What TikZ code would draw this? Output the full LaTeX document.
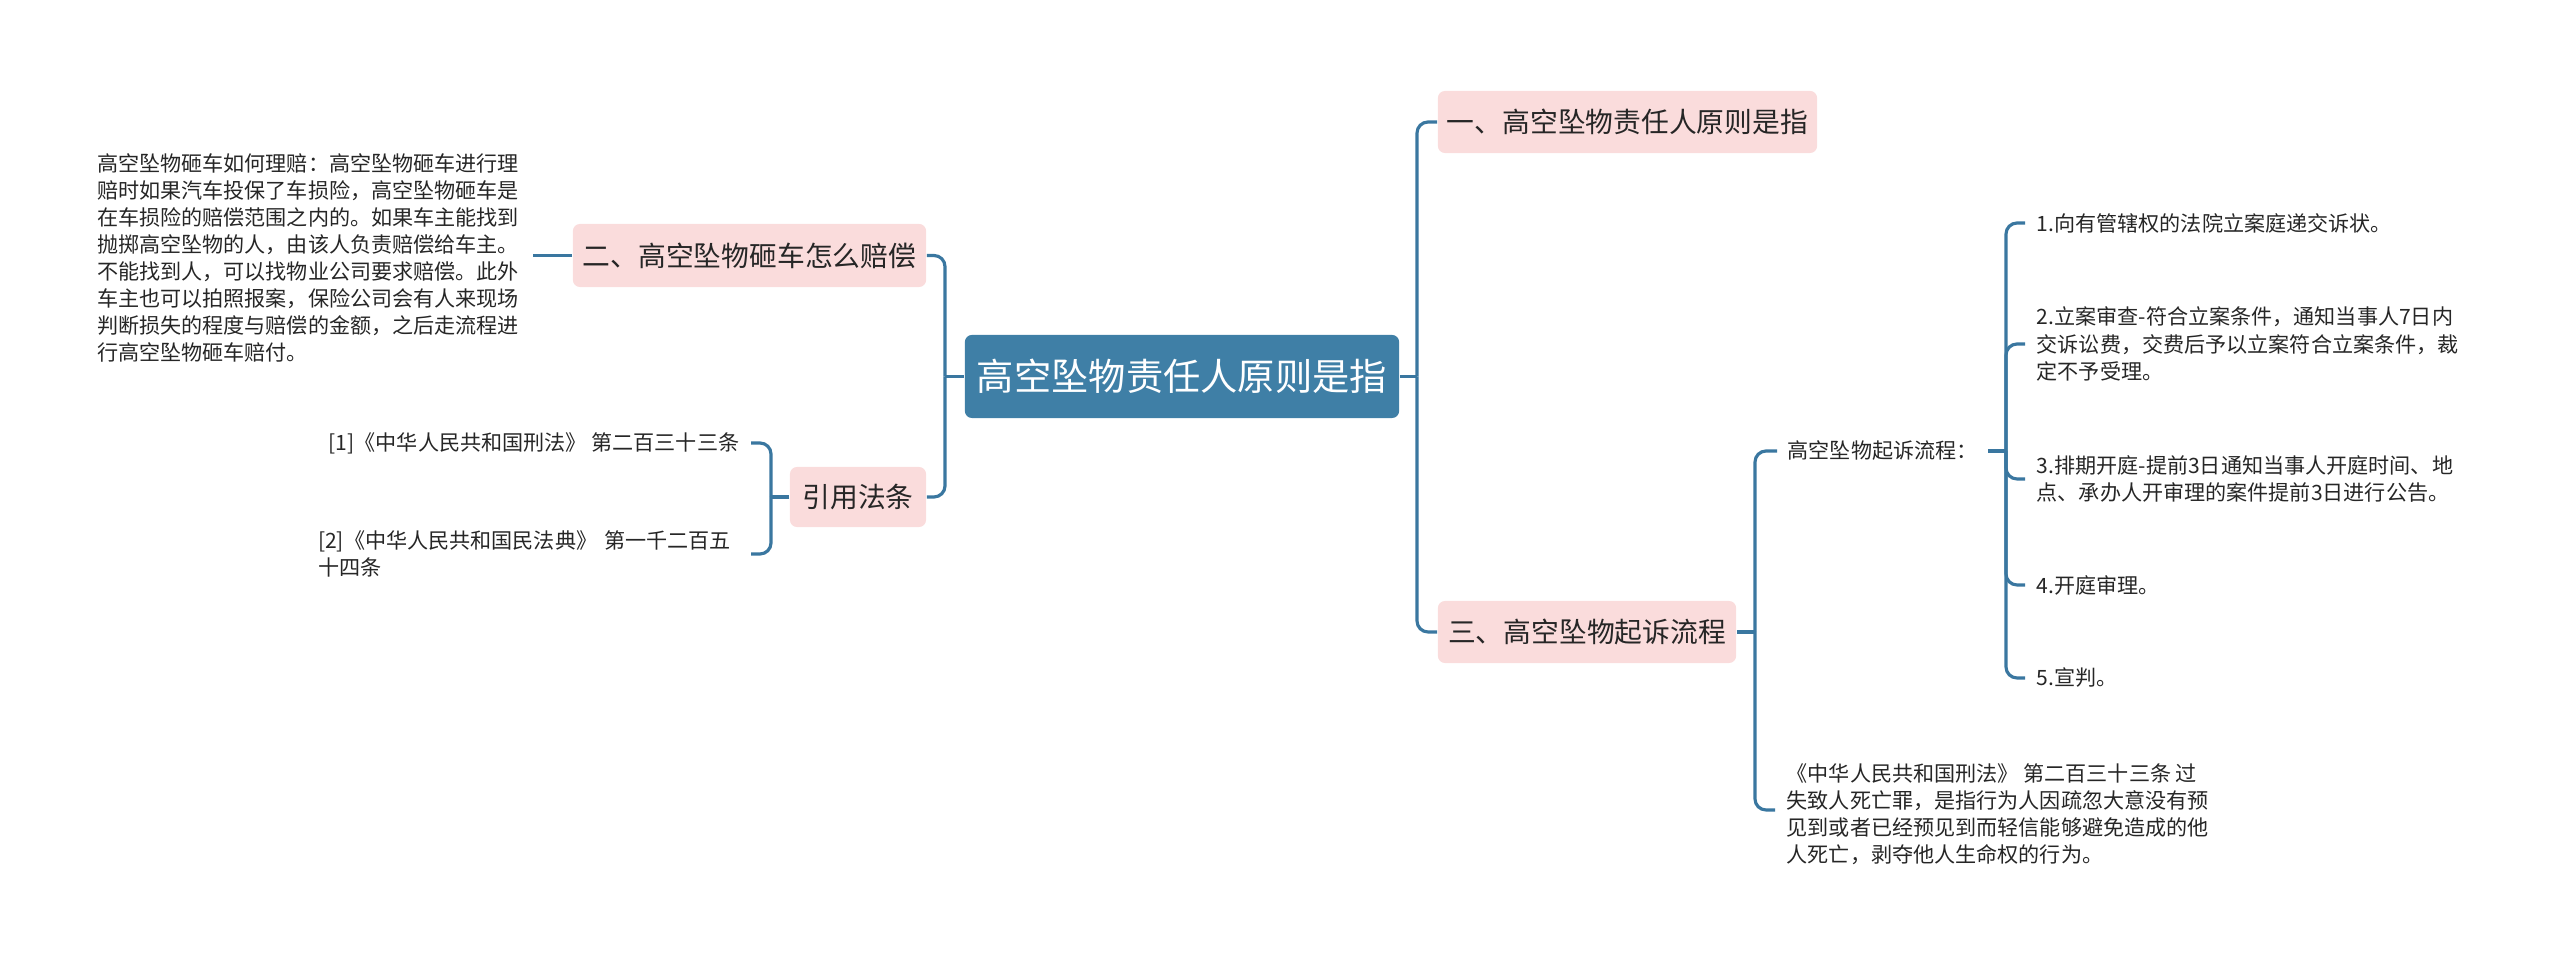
\documentclass[tikz,border=0pt]{standalone}
\usepackage{fontspec}
\setmainfont{Noto Sans CJK SC}
\definecolor{linec}{HTML}{3A77A0}
\definecolor{rootc}{HTML}{3F7FA6}
\definecolor{pinkc}{HTML}{FADCDC}
\begin{document}
\begin{tikzpicture}[x=0.01cm,y=-0.01cm,
  conn/.style={draw=linec,line width=0.9pt,rounded corners=0.11cm},
  rootbox/.style={fill=rootc,rounded corners=0.07cm,text=white,font=\fontsize{10.6}{13}\selectfont,inner sep=0pt,align=center},
  pinkbox/.style={fill=pinkc,rounded corners=0.07cm,text=black!85,font=\fontsize{7.9}{10}\selectfont,inner sep=0pt,align=center},
  leaf/.style={font=\fontsize{6}{7.7}\selectfont,text=black!85,inner xsep=0.11cm,inner ysep=0pt,align=left}]
\useasboundingbox (0,0) rectangle (2560,968);

% nodes
\node[rootbox,minimum width=4.34cm,minimum height=0.83cm] (root) at (1182,376.5) {高空坠物责任人原则是指};
\node[pinkbox,minimum width=3.79cm,minimum height=0.62cm] (n1) at (1627.5,122) {一、高空坠物责任人原则是指};
\node[pinkbox,minimum width=2.98cm,minimum height=0.62cm] (n3) at (1587,632) {三、高空坠物起诉流程};
\node[pinkbox,minimum width=3.53cm,minimum height=0.63cm] (n2) at (749.5,255.5) {二、高空坠物砸车怎么赔偿};
\node[pinkbox,minimum width=1.36cm,minimum height=0.60cm] (n4) at (858,497) {引用法条};

\node[leaf,anchor=east,text width=4.24cm] (t2) at (533,258) {高空坠物砸车如何理赔：高空坠物砸车进行理\\赔时如果汽车投保了车损险，高空坠物砸车是\\在车损险的赔偿范围之内的。如果车主能找到\\抛掷高空坠物的人，由该人负责赔偿给车主。\\不能找到人，可以找物业公司要求赔偿。此外\\车主也可以拍照报案，保险公司会有人来现场\\判断损失的程度与赔偿的金额，之后走流程进\\行高空坠物砸车赔付。};

\node[leaf,anchor=east] (r1) at (751,443) {[1]《中华人民共和国刑法》 第二百三十三条};
\node[leaf,anchor=east,text width=4.21cm] (r2) at (751,554) {[2]《中华人民共和国民法典》 第一千二百五\\十四条};

\node[leaf,anchor=west,inner xsep=0.1cm] (flow) at (1777,451) {高空坠物起诉流程：};
\node[leaf,anchor=west] (law) at (1775,814) {《中华人民共和国刑法》 第二百三十三条 过\\失致人死亡罪，是指行为人因疏忽大意没有预\\见到或者已经预见到而轻信能够避免造成的他\\人死亡，剥夺他人生命权的行为。};

\node[leaf,anchor=west] (s1) at (2025,223) {1.向有管辖权的法院立案庭递交诉状。};
\node[leaf,anchor=west] (s2) at (2025,344) {2.立案审查-符合立案条件，通知当事人7日内\\交诉讼费，交费后予以立案符合立案条件，裁\\定不予受理。};
\node[leaf,anchor=west] (s3) at (2025,479) {3.排期开庭-提前3日通知当事人开庭时间、地\\点、承办人开审理的案件提前3日进行公告。};
\node[leaf,anchor=west] (s4) at (2025,585) {4.开庭审理。};
\node[leaf,anchor=west] (s5) at (2025,678) {5.宣判。};

% junctions
\coordinate (jr) at (1417,376.5);
\coordinate (jl) at (945,376.5);
\coordinate (j4) at (771,497);
\coordinate (j3) at (1755,632);
\coordinate (jf) at (2006,451);

% connectors
\draw[conn] (root.east) -- (jr);
\draw[conn] (jr) |- (n1.west);
\draw[conn] (jr) |- (n3.west);
\draw[conn] (root.west) -- (jl);
\draw[conn] (jl) |- (n2.east);
\draw[conn] (jl) |- (n4.east);
\draw[conn] (n2.west) -- (t2.east |- n2.west);
\draw[conn] (n4.west) -- (j4);
\draw[conn] (j4) |- (r1.east);
\draw[conn] (j4) |- (r2.east);
\draw[conn] (n3.east) -- (j3);
\draw[conn] (j3) |- (flow.west);
\draw[conn] (j3) |- ([yshift=0.04cm]law.west);
\draw[conn] (flow.east) -- (jf);
\draw[conn] (jf) |- (s1.west);
\draw[conn] (jf) |- (s2.west);
\draw[conn] (jf) |- (s3.west);
\draw[conn] (jf) |- (s4.west);
\draw[conn] (jf) |- (s5.west);
\end{tikzpicture}
\end{document}
